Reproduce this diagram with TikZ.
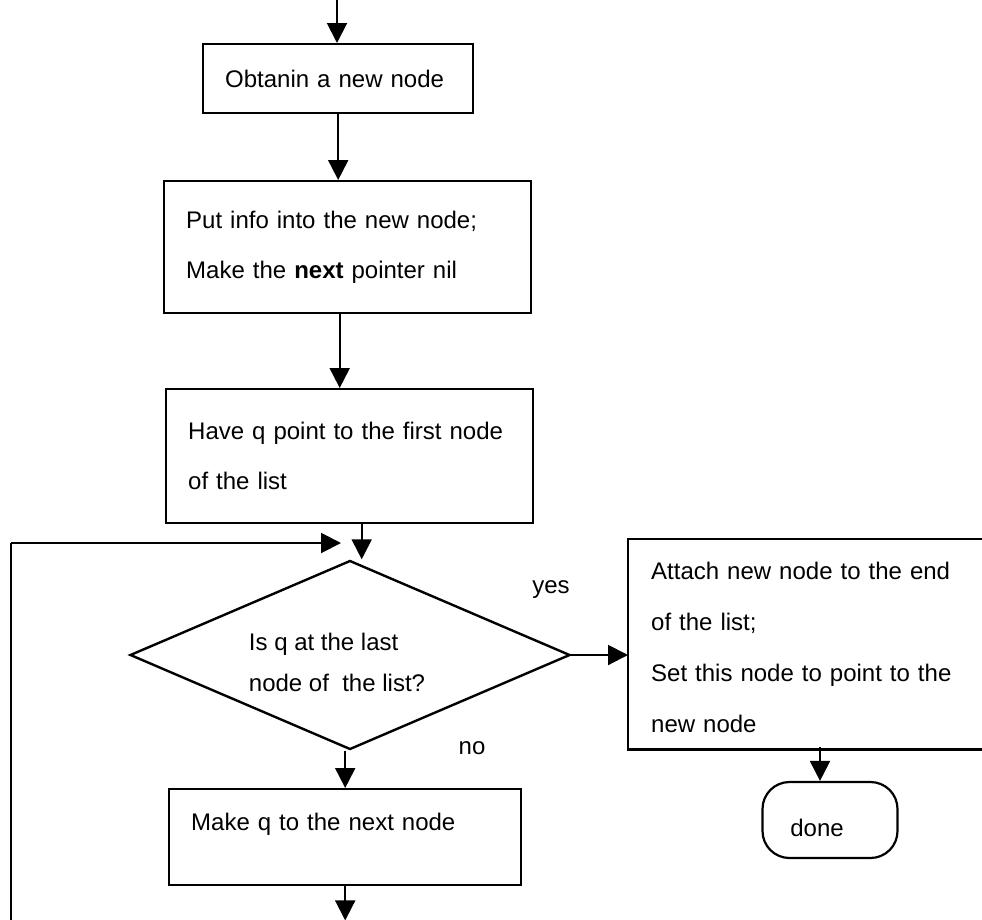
\documentclass[tikz,border=0pt]{standalone}
\usepackage{fontspec}
\setmainfont{Liberation Sans}
\usetikzlibrary{arrows.meta,shapes.geometric}

\begin{document}
\begin{tikzpicture}[x=1pt,y=-1pt,
  every node/.style={font=\fontsize{24}{50}\selectfont},
  stepbox/.style={draw, rectangle, line width=2.4pt, anchor=north west,
    inner xsep=22pt, inner ysep=0pt, align=left},
  decision/.style={draw, diamond, line width=2.4pt, inner sep=0pt},
  terminal/.style={draw, rectangle, rounded corners=27pt,
    line width=2.2pt, inner sep=0pt},
  flow/.style={line width=2pt, -{Triangle[length=20pt,width=20pt]}},
  plain/.style={line width=2pt},
  lbl/.style={inner sep=0pt}]
\useasboundingbox (0,0) rectangle (982,919);

% main column of steps
\node[stepbox, text width=226pt, minimum height=69pt] (b1) at (202,43)
  {Obtanin a new node};
\node[stepbox, text width=323pt, minimum height=132pt] (b2) at (163,180)
  {Put info into the new node;\\Make the \textbf{next} pointer nil};
\node[stepbox, text width=323pt, minimum height=134pt] (b3) at (165,388)
  {Have q point to the first node\\of the list};
\node[decision, minimum width=440pt, minimum height=189pt] (d) at (350,655) {};
\node[lbl, align=left, font=\fontsize{24}{41}\selectfont] (dq) at (337,662)
  {Is q at the last\\node of~ the list?};
\node[stepbox, text width=308pt, minimum height=96pt, text depth=30pt] (b4) at (168,788)
  {Make q to the next node};

% branch taken when q is the last node (box runs past the right edge)
\node[stepbox, draw=none, text width=310pt, minimum height=208pt,
  font=\fontsize{24}{51}\selectfont] (b5) at (628,542)
  {Attach new node to the end\\of the list;\\Set this node to point to the\\new node};
\draw[line width=2.4pt] ([yshift=3pt]b5.north east) -- ([yshift=3pt]b5.north west)
  -- ([yshift=3pt]b5.south west) -- ([yshift=3pt]b5.south east);
\node[terminal, minimum width=135pt, minimum height=76pt] (done) at (830,820)
  {\raisebox{-8pt}[\height][\depth]{done}\hspace*{26pt}};

% branch labels
\node[lbl] (yes) at (551,590) {yes};
\node[lbl] (no) at (472,748) {no};

% free ends of the connectors
\coordinate (in) at (337,-2);
\coordinate (lb) at (11,925);
\coordinate (lt) at (11,543);
\coordinate (lend) at (341,543);

% connectors
\draw[flow] (in) -- (in |- b1.north);
\draw[flow] (b1.south) -- (b1.south |- b2.north);
\draw[flow] ([xshift=-8pt]b2.south) -- ([xshift=-8pt]b2.south |- b3.north);
\draw[flow] ([xshift=12pt]b3.south) -- ([xshift=12pt]b3.south |- d.north);
\draw[flow] (d.east) -- (d.east -| b5.west);
\draw[flow] (b4.north |- d.south) -- (b4.north);
\coordinate (out) at ([yshift=-34pt]b4.south);
\draw[flow] (b4.south) -- (out);
\draw[flow] ([xshift=-10pt]done.north |- 0,747) -- ([xshift=-10pt]done.north);
\draw[plain] (lb) -- (lt);
\draw[flow] (lt) -- (lend);
\end{tikzpicture}
\end{document}
